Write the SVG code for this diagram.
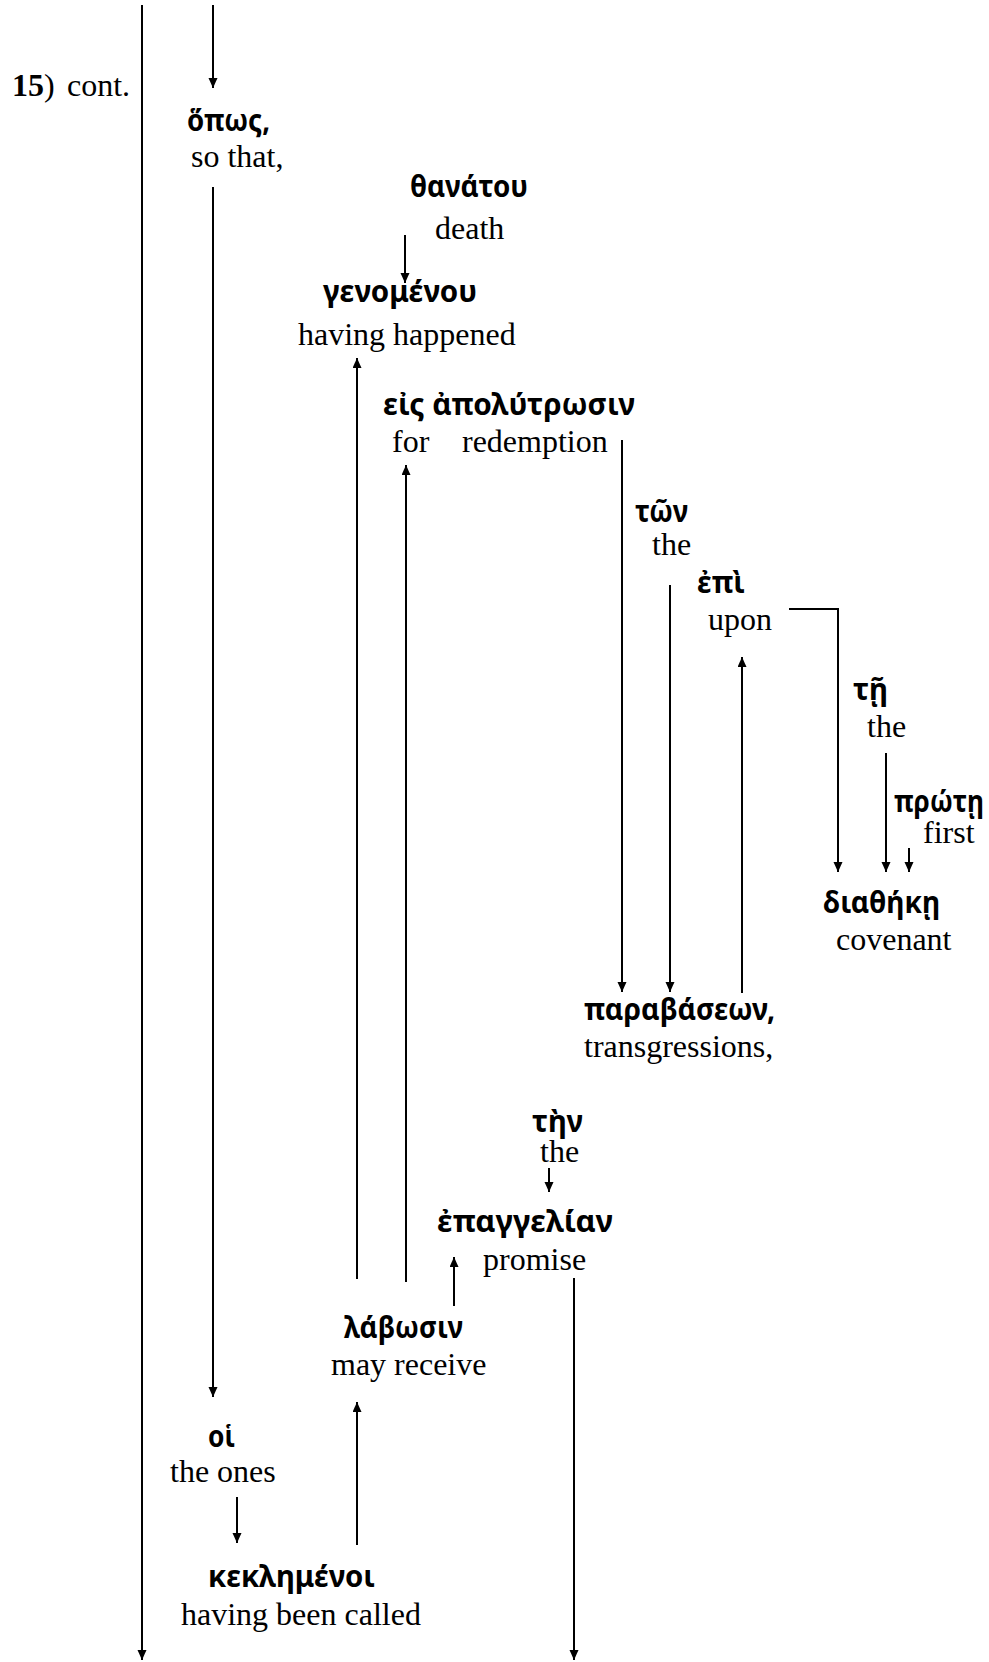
<svg xmlns="http://www.w3.org/2000/svg" width="989" height="1662" viewBox="0 0 989 1662">
<style>
.en{font-family:"Liberation Serif","Times New Roman",serif;font-size:32px;fill:#000}
.gk{font-family:"Noto Sans","DejaVu Sans",sans-serif;font-size:30px;font-weight:bold;fill:#000}
.ln{stroke:#000;stroke-width:2;fill:none}
.ar{marker-end:url(#ah)}
</style>
<defs>
<marker id="ah" markerUnits="userSpaceOnUse" markerWidth="10" markerHeight="10" refX="10" refY="4.5" orient="auto">
<path d="M0,0 L10,4.5 L0,9 z" fill="#000"/>
</marker>
</defs>
<rect width="989" height="1662" fill="#fff"/>
<g id="connectors">
<line class="ln ar" x1="142" y1="5" x2="142" y2="1660"/>
<line class="ln ar" x1="213" y1="5" x2="213" y2="88"/>
<line class="ln ar" x1="213" y1="187" x2="213" y2="1397"/>
<line class="ln ar" x1="405" y1="235" x2="405" y2="283"/>
<line class="ln ar" x1="357" y1="1279" x2="357" y2="358"/>
<line class="ln ar" x1="406" y1="1282" x2="406" y2="465"/>
<line class="ln ar" x1="622" y1="440" x2="622" y2="992"/>
<line class="ln ar" x1="670" y1="585" x2="670" y2="992"/>
<line class="ln ar" x1="742" y1="993" x2="742" y2="657"/>
<polyline class="ln ar" points="789,609 838,609 838,872"/>
<line class="ln ar" x1="886" y1="753" x2="886" y2="872"/>
<line class="ln ar" x1="909" y1="848" x2="909" y2="872"/>
<line class="ln ar" x1="549" y1="1168" x2="549" y2="1192"/>
<line class="ln ar" x1="454" y1="1306" x2="454" y2="1257"/>
<line class="ln ar" x1="574" y1="1278" x2="574" y2="1660"/>
<line class="ln ar" x1="357" y1="1545" x2="357" y2="1402"/>
<line class="ln ar" x1="237" y1="1497" x2="237" y2="1543"/>
</g>
<g id="label15"><text class="en" x="12" y="96"><tspan font-weight="bold">15</tspan>)<tspan x="67">cont.</tspan></text></g>
<g id="hopos"><text class="gk" x="187" y="131" textLength="83" lengthAdjust="spacingAndGlyphs">ὅπως,</text><text class="en" x="191" y="167">so that,</text></g>
<g id="thanatou"><text class="gk" x="410" y="197" textLength="118" lengthAdjust="spacingAndGlyphs">θανάτου</text><text class="en" x="435" y="239">death</text></g>
<g id="genomenou"><text class="gk" x="323" y="302" textLength="154" lengthAdjust="spacingAndGlyphs">γενομένου</text><text class="en" x="298" y="345">having happened</text></g>
<g id="eis"><text class="gk" x="383" y="415" textLength="252" lengthAdjust="spacingAndGlyphs">εἰς ἀπολύτρωσιν</text><text class="en" x="392" y="452">for<tspan x="462">redemption</tspan></text></g>
<g id="ton"><text class="gk" x="635" y="522" textLength="53" lengthAdjust="spacingAndGlyphs">τῶν</text><text class="en" x="652" y="555">the</text></g>
<g id="epi"><text class="gk" x="697" y="593" textLength="48" lengthAdjust="spacingAndGlyphs">ἐπὶ</text><text class="en" x="708" y="630">upon</text></g>
<g id="te"><text class="gk" x="853" y="700" textLength="35" lengthAdjust="spacingAndGlyphs">τῇ</text><text class="en" x="867" y="737">the</text></g>
<g id="prote"><text class="gk" x="894" y="812" font-size="28" textLength="90" lengthAdjust="spacingAndGlyphs">πρώτῃ</text><text class="en" x="923" y="843">first</text></g>
<g id="diatheke"><text class="gk" x="823" y="913" textLength="117" lengthAdjust="spacingAndGlyphs">διαθήκῃ</text><text class="en" x="836" y="950">covenant</text></g>
<g id="parabaseon"><text class="gk" x="584" y="1020" textLength="191" lengthAdjust="spacingAndGlyphs">παραβάσεων,</text><text class="en" x="584" y="1057">transgressions,</text></g>
<g id="ten"><text class="gk" x="532" y="1132" textLength="51" lengthAdjust="spacingAndGlyphs">τὴν</text><text class="en" x="540" y="1162">the</text></g>
<g id="epangelian"><text class="gk" x="437" y="1232" textLength="176" lengthAdjust="spacingAndGlyphs">ἐπαγγελίαν</text><text class="en" x="483" y="1270">promise</text></g>
<g id="labosin"><text class="gk" x="344" y="1338" textLength="119" lengthAdjust="spacingAndGlyphs">λάβωσιν</text><text class="en" x="331" y="1375">may receive</text></g>
<g id="hoi"><text class="gk" x="208" y="1447" textLength="27" lengthAdjust="spacingAndGlyphs">οἱ</text><text class="en" x="170" y="1482">the ones</text></g>
<g id="keklemenoi"><text class="gk" x="208" y="1587" textLength="167" lengthAdjust="spacingAndGlyphs">κεκλημένοι</text><text class="en" x="181" y="1625">having been called</text></g>
</svg>
